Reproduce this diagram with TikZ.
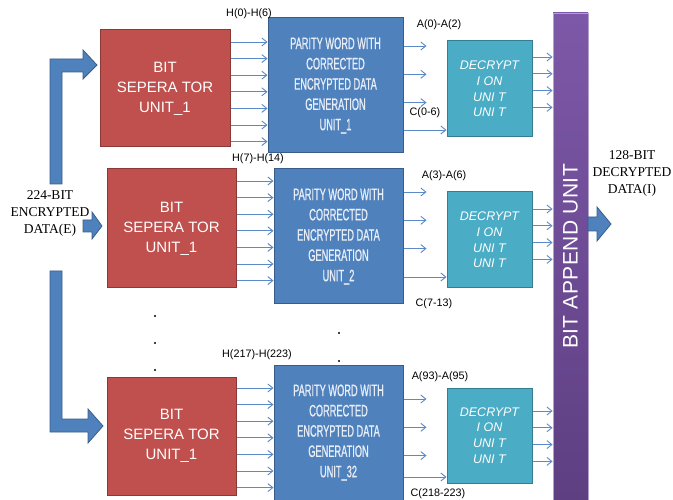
\documentclass[tikz,border=0pt]{standalone}
\usepackage{fontspec}
\setmainfont{Liberation Serif}
\setsansfont{Liberation Sans}
\newfontfamily\narrowfont[FakeStretch=0.56, FakeBold=0.8]{Liberation Sans}
\newfontfamily\spacedfont[LetterSpace=2]{Liberation Sans}
\usetikzlibrary{arrows.meta}
\definecolor{sepcol}{HTML}{C0504D}
\definecolor{sepline}{HTML}{8C3836}
\definecolor{parcol}{HTML}{4F81BD}
\definecolor{parline}{HTML}{385D8A}
\definecolor{partext}{HTML}{E8EEF7}
\definecolor{deccol}{HTML}{4BACC6}
\definecolor{decline}{HTML}{357D91}
\definecolor{apptop}{HTML}{7D58A8}
\definecolor{appbot}{HTML}{5E3F82}
\definecolor{appline}{HTML}{B2A2CA}
\definecolor{buscol}{HTML}{5B8AC6}

\tikzset{
  sepbox/.style={draw=sepline, fill=sepcol, line width=1pt, inner sep=0pt, align=center,
    text=white, font=\sffamily\fontsize{15}{20}\selectfont},
  parbox/.style={draw=parline, fill=parcol, line width=1pt, inner sep=0pt, align=center,
    text=partext, font=\narrowfont\fontsize{16.5}{20.3}\selectfont,
    minimum width=129pt, minimum height=135pt},
  decbox/.style={draw=decline, fill=deccol, line width=1pt, inner sep=0pt, align=center,
    text=white, font=\sffamily\itshape\fontsize{12.5}{15.7}\selectfont,
    minimum width=85pt, minimum height=96pt},
  appbox/.style={draw=appline, line width=0.8pt, top color=apptop, bottom color=appbot,
    inner sep=0pt, text=white, font=\spacedfont\fontsize{21}{24}\selectfont,
    minimum width=35pt, minimum height=487pt},
  bus/.style={buscol, line width=0.9pt, -{Straight Barb[length=5pt,width=8pt]}},
  blockarrow/.style={fill=parcol, draw=parline, line width=0.8pt},
  tag/.style={font=\sffamily\fontsize{10.8}{12}\selectfont, inner sep=0pt},
  datatext/.style={font=\fontsize{13.5}{17}\selectfont, align=center, inner sep=0pt}
}

\begin{document}
\begin{tikzpicture}[x=1pt, y=-1pt]
\useasboundingbox (0,0) rectangle (673,500);

% input block arrows
\draw[blockarrow] (50,184) -- (50,59) -- (83,59) -- (83,50) -- (97,65) -- (83,79) -- (83,72) -- (62,72) -- (62,184) -- cycle;
\draw[blockarrow] (83,220) -- (92,220) -- (92,212) -- (102,226) -- (92,239) -- (92,232) -- (83,232) -- cycle;
\draw[blockarrow] (50,271) -- (50,432) -- (88,432) -- (88,443) -- (103,426) -- (88,409) -- (88,419) -- (62,419) -- (62,271) -- cycle;
\node[datatext] (indata) at (50,213) {224-BIT\\ENCRYPTED\\DATA(E)};

% bit separators
\node[sepbox, minimum width=130pt, minimum height=117pt] (sep1) at (165,88.5) {BIT\\SEPERA TOR\\UNIT\_1};
\node[sepbox, minimum width=129pt, minimum height=119pt] (sep2) at (171.5,228.5) {BIT\\SEPERA TOR\\UNIT\_1};
\node[sepbox, minimum width=129pt, minimum height=118pt] (sep3) at (171.5,436) {BIT\\SEPERA TOR\\UNIT\_1};

% parity word units
\node[parbox, minimum width=135pt] (par1) at (335.5,85.5) {PARITY WORD WITH\\CORRECTED\\ENCRYPTED DATA\\GENERATION\\UNIT\_1};
\node[parbox] (par2) at (338.5,236.5) {PARITY WORD WITH\\CORRECTED\\ENCRYPTED DATA\\GENERATION\\UNIT\_2};
\node[parbox] (par3) at (338.5,432.5) {PARITY WORD WITH\\CORRECTED\\ENCRYPTED DATA\\GENERATION\\UNIT\_32};

% decryption units
\node[decbox] (dec1) at (489.5,89) {DECRYPT\\I ON\\UNI T\\UNI T};
\node[decbox] (dec2) at (489.5,240) {DECRYPT\\I ON\\UNI T\\UNI T};
\node[decbox, minimum height=95pt] (dec3) at (489.5,435.5) {DECRYPT\\I ON\\UNI T\\UNI T};

% append unit and output
\node[appbox] (app) at (570.5,256.5) {\rotatebox{90}{BIT APPEND UNIT}};
\draw[blockarrow] (588,217) -- (597,217) -- (597,207) -- (611,224) -- (597,241) -- (597,231) -- (588,231) -- cycle;
\node[datatext] (outdata) at (632,173) {128-BIT\\DECRYPTED\\DATA(I)};

% buses
\foreach \r/\ya/\yb/\yc/\yd in {1/42/46/130/57, 2/181/192/277/209, 3/388/399/477/411}{
  \foreach \k in {0,...,6}
    \draw[bus] (sep\r.east |- 0,{\ya+16.6*\k}) -- (par\r.west |- 0,{\ya+16.6*\k});
  \foreach \k in {0,1,2}
    \draw[bus] (par\r.east |- 0,{\yb+28.3*\k}) -- ++(23,0);
  \draw[bus] (par\r.east |- 0,\yc) -- (dec\r.west |- 0,\yc);
  \foreach \k in {0,...,3}
    \draw[bus] (dec\r.east |- 0,{\yd+16.8*\k}) -- (app.west |- 0,{\yd+16.8*\k});
}

% bus labels
\node[tag] (h1) at (249,14) {H(0)-H(6)};
\node[tag] (h2) at (258,159) {H(7)-H(14)};
\node[tag] (h3) at (257,355) {H(217)-H(223)};
\node[tag] (a1) at (439,25) {A(0)-A(2)};
\node[tag] (a2) at (444,176) {A(3)-A(6)};
\node[tag] (a3) at (440,377) {A(93)-A(95)};
\node[tag] (c1) at (425,113) {C(0-6)};
\node[tag] (c2) at (434,304) {C(7-13)};
\node[tag] (c3) at (438,494) {C(218-223)};

% dots
\foreach \p in {(155,316), (155,343), (155,370), (339,333), (339,361)}
  \fill \p circle (1.1pt);
\end{tikzpicture}
\end{document}
